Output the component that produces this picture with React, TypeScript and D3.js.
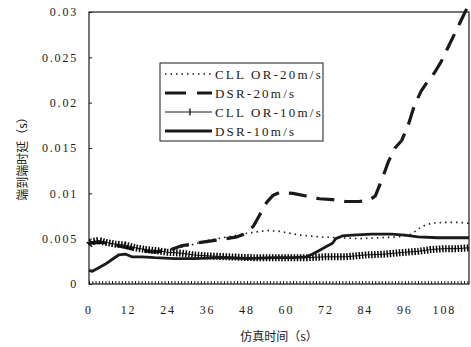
import { useEffect, useRef } from 'react';
import * as d3 from 'd3';

// ─── Data ──────────────────────────────────────────────

type Pt = [number, number];

const X_TICKS = [0, 12, 24, 36, 48, 60, 72, 84, 96, 108];
const Y_TICKS = [0, 0.005, 0.01, 0.015, 0.02, 0.025, 0.03];
const Y_TICK_LABELS = ['0', '0.005', '0.01', '0.015', '0.02', '0.025', '0.03'];

const SERIES_LABELS = ['CLL OR-20m/s', 'DSR-20m/s', 'CLL OR-10m/s', 'DSR-10m/s'];

// CLL OR, 20 m/s (dotted)
const cllor20: Pt[] = [
  [0, 0.0044], [3, 0.0047], [6, 0.0045], [10, 0.0042], [15, 0.0039], [20, 0.0037],
  [24, 0.0038], [30, 0.0042], [36, 0.0048], [42, 0.0052], [48, 0.0056], [54, 0.0059],
  [58, 0.0058], [64, 0.0054], [70, 0.0052], [76, 0.0051], [82, 0.005], [88, 0.0051],
  [94, 0.0052], [98, 0.0055], [101, 0.0063], [104, 0.0067], [108, 0.0068], [112, 0.0068],
  [115.5, 0.0067],
];

// DSR, 20 m/s (dashed)
const dsr20: Pt[] = [
  [0, 0.0045], [4, 0.0046], [8, 0.0043], [14, 0.0038], [20, 0.0035], [24, 0.0037],
  [28, 0.0042], [34, 0.0046], [40, 0.0049], [45, 0.0052], [48, 0.0056], [50, 0.0064],
  [52, 0.0077], [54, 0.009], [56, 0.0098], [58, 0.0101], [62, 0.01], [66, 0.0097],
  [70, 0.0094], [74, 0.0093], [78, 0.0091], [82, 0.0091], [85, 0.0092], [87, 0.0097],
  [89, 0.0115], [91, 0.0135], [93, 0.015], [95, 0.0158], [97, 0.0175], [99, 0.0198],
  [101, 0.0213], [103, 0.0224], [105, 0.0233], [107, 0.0245], [109, 0.026], [111, 0.0275],
  [113, 0.029], [115, 0.0305],
];

// CLL OR, 10 m/s (line with + marks)
const cllor10: Pt[] = [
  [0, 0.0043], [1, 0.0047], [3, 0.0048], [5, 0.0046], [8, 0.0044], [11, 0.0043],
  [14, 0.004], [17, 0.0038], [20, 0.0037], [24, 0.0035], [28, 0.0034], [32, 0.0032],
  [36, 0.0031], [42, 0.003], [50, 0.0029], [58, 0.0029], [66, 0.0029], [72, 0.003],
  [78, 0.003], [84, 0.0032], [90, 0.0033], [96, 0.0035], [100, 0.0036], [104, 0.0038],
  [108, 0.0039], [112, 0.0039], [115.5, 0.004],
];

// DSR, 10 m/s (solid)
const dsr10: Pt[] = [
  [0, 0.0015], [1, 0.0014], [3, 0.0018], [5, 0.0022], [7, 0.0027], [9, 0.0032],
  [11, 0.0033], [13, 0.003], [16, 0.003], [20, 0.0029], [26, 0.0028], [32, 0.0028],
  [40, 0.0029], [48, 0.0028], [56, 0.0029], [62, 0.0029], [66, 0.003], [68, 0.0033],
  [70, 0.0037], [72, 0.0041], [74, 0.0045], [75, 0.005], [77, 0.0053], [80, 0.0054],
  [86, 0.0055], [92, 0.0055], [96, 0.0054], [100, 0.0052], [106, 0.0051], [112, 0.0051],
  [115.5, 0.0051],
];

// ─── Layout ────────────────────────────────────────────

const W = 471;
const H = 347;
const M = { left: 89, right: 469, top: 12, bottom: 284 };
const SERIF = '"Liberation Serif", "DejaVu Serif", serif';
const CJK = '"Noto Sans CJK SC", sans-serif';
const INK = '#1a1a1a';

const STYLES = [
  { width: 1.6, dash: '1.5 4', plus: false },
  { width: 3.2, dash: '18 10', plus: false },
  { width: 1, dash: null, plus: true },
  { width: 2.8, dash: null, plus: false },
];

export default function App() {
  const svgRef = useRef<SVGSVGElement>(null);

  useEffect(() => {
    document.body.style.margin = '0';
    if (!svgRef.current) return;
    const svg = d3.select(svgRef.current);
    svg.selectAll('*').remove();

    const x = d3.scaleLinear().domain([0, 115.5]).range([M.left, M.right]);
    const y = d3.scaleLinear().domain([0, 0.03]).range([M.bottom, M.top]);

    // frame
    svg.append('rect')
      .attr('x', M.left).attr('y', M.top)
      .attr('width', M.right - M.left).attr('height', M.bottom - M.top)
      .attr('fill', 'none').attr('stroke', INK).attr('stroke-width', 1.2);

    // y ticks (inward)
    const gy = svg.append('g').attr('transform', `translate(${M.left},0)`)
      .call(d3.axisRight(y).tickValues(Y_TICKS).tickSize(3).tickFormat(() => ''));
    gy.select('.domain').remove();
    gy.selectAll('line').attr('stroke', INK);

    // x minor ticks (inward)
    const gx = svg.append('g').attr('transform', `translate(0,${M.bottom})`)
      .call(d3.axisTop(x).tickValues(d3.range(0, 116, 1)).tickSize(3).tickFormat(() => ''));
    gx.select('.domain').remove();
    gx.selectAll('line').attr('stroke', INK);

    // y labels
    svg.append('g').selectAll('text').data(Y_TICKS).join('text')
      .attr('x', 78).attr('y', (d) => y(d)).attr('dy', '0.35em')
      .attr('text-anchor', 'end')
      .attr('font-family', SERIF).attr('font-size', 12).attr('letter-spacing', 1.8)
      .attr('fill', INK)
      .text((_, i) => Y_TICK_LABELS[i]);

    // x labels
    svg.append('g').selectAll('text').data(X_TICKS).join('text')
      .attr('x', (d) => x(d)).attr('y', 314)
      .attr('text-anchor', 'middle')
      .attr('font-family', SERIF).attr('font-size', 12).attr('letter-spacing', 1.8)
      .attr('fill', INK)
      .text((d) => String(d));

    // axis titles
    svg.append('text')
      .attr('x', (M.left + M.right) / 2).attr('y', 341)
      .attr('text-anchor', 'middle')
      .attr('font-family', CJK).attr('font-size', 12).attr('fill', INK)
      .text('仿真时间（s）');
    svg.append('text')
      .attr('transform', `translate(27,${(M.top + M.bottom) / 2 + 8}) rotate(-90)`)
      .attr('text-anchor', 'middle')
      .attr('font-family', CJK).attr('font-size', 12).attr('fill', INK)
      .text('端到端时延（s）');

    // series
    const line = d3.line<Pt>().x((d) => x(d[0])).y((d) => y(d[1]));
    const plot = svg.append('g');
    [cllor20, dsr20, cllor10, dsr10].forEach((data, i) => {
      const s = STYLES[i];
      const p = plot.append('path').datum(data)
        .attr('fill', 'none').attr('stroke', INK)
        .attr('stroke-width', s.width)
        .attr('stroke-linejoin', 'round')
        .attr('d', line);
      if (s.dash) p.attr('stroke-dasharray', s.dash);
      if (s.plus) {
        // dense "+" marks rendered as perpendicular hatching on the line
        plot.append('path').datum(data)
          .attr('fill', 'none').attr('stroke', '#000')
          .attr('stroke-width', 7).attr('stroke-dasharray', '1.5 1.6')
          .attr('d', line);
      }
    });

    // legend
    const lg = svg.append('g');
    lg.append('rect')
      .attr('x', 160).attr('y', 63).attr('width', 163).attr('height', 78)
      .attr('fill', 'white').attr('stroke', INK).attr('stroke-width', 1);
    SERIES_LABELS.forEach((label, i) => {
      const ry = 74 + i * 19;
      const s = STYLES[i];
      const l = lg.append('line')
        .attr('x1', 165).attr('x2', 212).attr('y1', ry).attr('y2', ry)
        .attr('stroke', INK).attr('stroke-width', s.width);
      if (s.dash) l.attr('stroke-dasharray', i === 1 ? '21 11' : s.dash);
      if (s.plus) {
        lg.append('line')
          .attr('x1', 190).attr('x2', 190).attr('y1', ry - 3.5).attr('y2', ry + 3.5)
          .attr('stroke', INK).attr('stroke-width', 1.4);
      }
      lg.append('text')
        .attr('x', 215).attr('y', ry).attr('dy', '0.35em')
        .attr('font-family', SERIF).attr('font-size', 13).attr('letter-spacing', 2.2)
        .attr('fill', INK)
        .text(label);
    });
  }, []);

  return <svg ref={svgRef} width={W} height={H} style={{ display: 'block', background: 'white' }} />;
}
